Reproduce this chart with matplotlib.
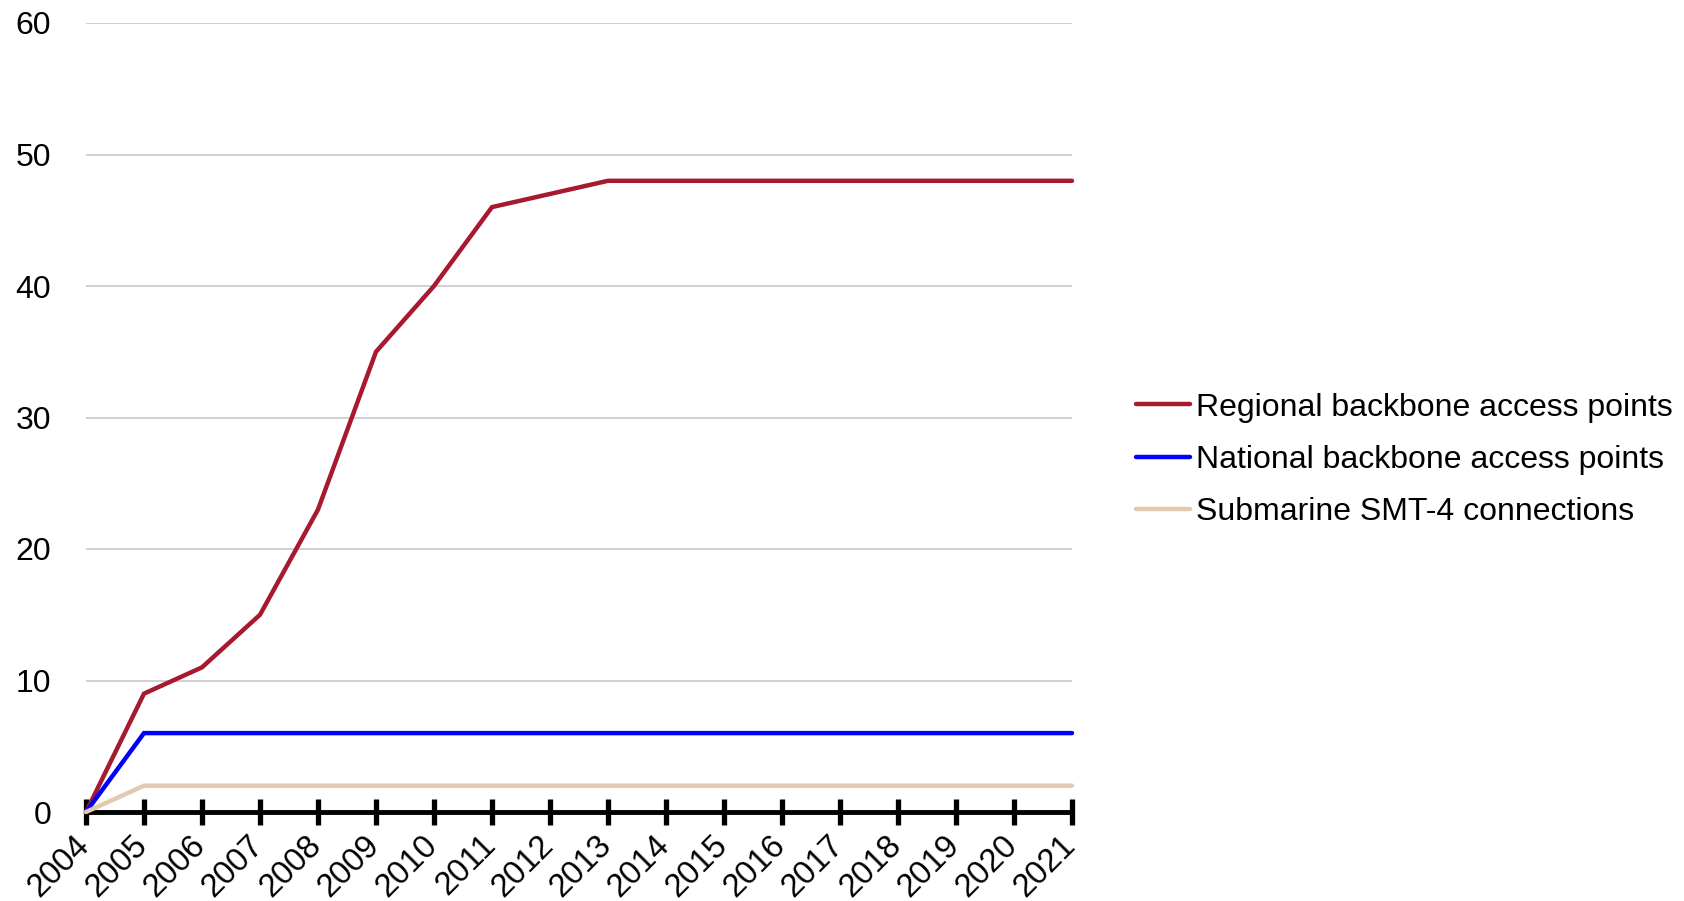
import matplotlib
matplotlib.use("Agg")
import matplotlib.pyplot as plt
from matplotlib.transforms import ScaledTranslation

years = list(range(2004, 2022))
regional = [0, 9, 11, 15, 23, 35, 40, 46, 47, 48, 48, 48, 48, 48, 48, 48, 48, 48]
national = [0, 6, 6, 6, 6, 6, 6, 6, 6, 6, 6, 6, 6, 6, 6, 6, 6, 6]
submarine = [0, 2, 2, 2, 2, 2, 2, 2, 2, 2, 2, 2, 2, 2, 2, 2, 2, 2]
series_labels = ["Regional backbone access points",
                 "National backbone access points",
                 "Submarine SMT-4 connections"]
colors = ["#A6192E", "#0000FF", "#E3C9B0"]

plt.rcParams['font.family'] = ['Liberation Sans', 'DejaVu Sans']

fig = plt.figure(figsize=(16.84, 9.01), dpi=100)
ax = fig.add_axes([86 / 1684, 1 - 812 / 901, (1072 - 86) / 1684, (812 - 23) / 901])

for vals, lab, c in zip([regional, national, submarine], series_labels, colors):
    ax.plot(years, vals, color=c, lw=3.2, label=lab, solid_capstyle='round',
            solid_joinstyle='miter', clip_on=False, zorder=3)

ax.set_xlim(2004, 2021)
ax.set_ylim(0, 60)
ax.set_yticks(range(0, 61, 10))
ax.set_xticks(years)
ax.set_xticklabels([str(y) for y in years], rotation=45, ha='right',
                   rotation_mode='anchor')
ax.grid(axis='y', color='#C8C8C8', lw=1.2)
ax.set_axisbelow(True)

for s in ['top', 'right', 'left']:
    ax.spines[s].set_visible(False)
ax.spines['bottom'].set_linewidth(3.5)
ax.spines['bottom'].set_zorder(2)

ax.tick_params(axis='y', length=0, labelsize=23, pad=25)
ax.tick_params(axis='x', direction='inout', length=19, width=3.8,
               labelsize=23.5, pad=3)

# nudge the rotated year labels so their ends sit under the ticks
shift = ScaledTranslation(-0.12, 0, fig.dpi_scale_trans)
for lbl in ax.get_xticklabels():
    lbl.set_transform(lbl.get_transform() + shift)

leg = fig.legend(loc='center left', bbox_to_anchor=(1136 / 1684, 1 - 460 / 901),
                 bbox_transform=fig.transFigure, frameon=False,
                 fontsize=23, handlelength=1.7, handletextpad=0.17,
                 labelspacing=0.7, borderpad=0, borderaxespad=0)

fig.savefig("out.png", dpi=100)
